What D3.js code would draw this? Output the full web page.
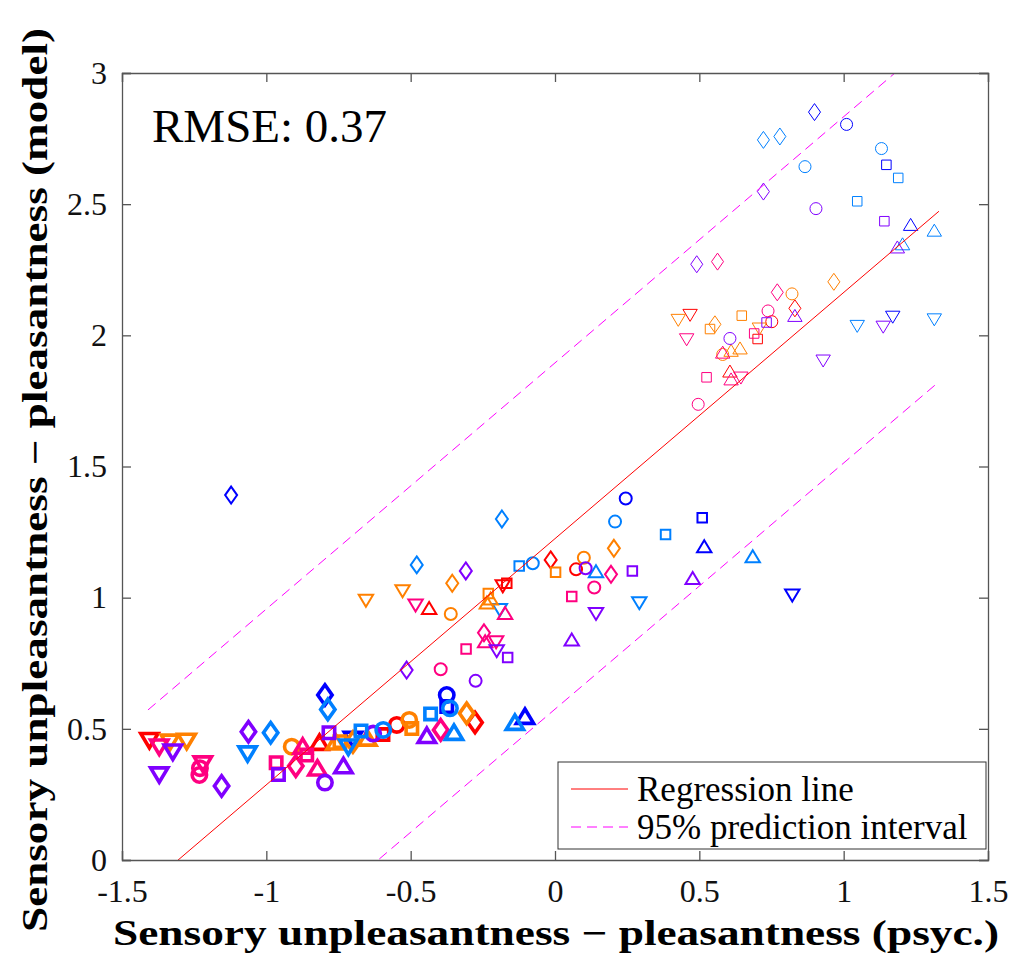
<!DOCTYPE html>
<html><head><meta charset="utf-8">
<script src="https://cdn.jsdelivr.net/npm/d3@7"></script>
<style>body{margin:0;background:#fff}</style>
</head><body>
<svg id="c" width="1013" height="963"></svg>
<script>
// ---- data ----
// color codes: R red, O orange, P pink, V violet, A azure, B blue
// shape codes: o circle, s square, d diamond, ^ up-triangle, v down-triangle
const thickPoints = [
  [-1.405,0.457,'R','v'],[-0.816,0.447,'R','^'],[-0.548,0.515,'R','o'],[-0.277,0.524,'R','d'],[-0.596,0.478,'R','s'],
  [-0.797,0.629,'B','d'],[-0.375,0.629,'B','o'],[-0.375,0.585,'B','s'],[-0.104,0.546,'B','^'],[-0.700,0.462,'B','v'],
  [-1.334,0.451,'O','v'],[-1.276,0.454,'O','v'],[-0.912,0.432,'O','o'],[-0.505,0.534,'O','o'],[-0.496,0.501,'O','s'],
  [-0.745,0.451,'O','s'],[-0.306,0.559,'O','d'],[-0.700,0.450,'O','d'],[-0.650,0.463,'O','^'],[-0.760,0.448,'O','^'],
  [-1.371,0.432,'P','v'],[-1.220,0.368,'P','v'],[-1.232,0.324,'P','o'],[-1.230,0.350,'P','o'],[-0.966,0.371,'P','s'],
  [-0.860,0.400,'P','s'],[-0.898,0.358,'P','d'],[-0.396,0.496,'P','d'],[-0.874,0.432,'P','^'],[-0.823,0.349,'P','^'],
  [-1.324,0.413,'V','v'],[-1.371,0.326,'V','v'],[-1.155,0.282,'V','d'],[-1.062,0.489,'V','d'],[-0.958,0.326,'V','s'],
  [-0.783,0.485,'V','s'],[-0.733,0.358,'V','^'],[-0.444,0.473,'V','^'],[-0.797,0.295,'V','o'],[-0.630,0.482,'V','o'],
  [-0.985,0.485,'A','d'],[-0.787,0.574,'A','d'],[-1.065,0.406,'A','v'],[-0.716,0.432,'A','v'],[-0.672,0.492,'A','s'],
  [-0.431,0.557,'A','s'],[-0.595,0.496,'A','o'],[-0.364,0.578,'A','o'],[-0.350,0.485,'A','^'],[-0.139,0.523,'A','^']
];
const mediumPoints = [
  [-0.015,1.144,'R','d'],[0.073,1.108,'R','o'],[-0.436,0.959,'R','^'],[-0.181,1.045,'R','v'],[-0.167,1.055,'R','s'],
  [0.245,1.378,'B','o'],[0.510,1.305,'B','s'],[0.517,1.194,'B','^'],[0.822,1.010,'B','v'],[-1.122,1.391,'B','d'],
  [0.208,1.290,'A','o'],[-0.077,1.131,'A','o'],[-0.184,1.300,'A','d'],[-0.479,1.125,'A','d'],[-0.124,1.121,'A','s'],
  [0.383,1.241,'A','s'],[0.142,1.099,'A','^'],[0.685,1.156,'A','^'],[-0.191,0.955,'A','v'],[0.292,0.981,'A','v'],
  [0.204,1.188,'O','d'],[-0.356,1.055,'O','d'],[0.002,1.097,'O','s'],[-0.231,1.016,'O','s'],[0.100,1.152,'O','o'],
  [-0.361,0.938,'O','o'],[-0.528,1.026,'O','v'],[-0.655,0.990,'O','v'],[-0.223,0.995,'O','^'],[-0.236,0.980,'O','^'],
  [0.194,1.089,'P','d'],[-0.246,0.866,'P','d'],[-0.483,0.972,'P','v'],[-0.204,0.832,'P','v'],[-0.173,0.940,'P','^'],
  [-0.242,0.832,'P','^'],[0.058,1.004,'P','s'],[-0.308,0.804,'P','s'],[0.136,1.039,'P','o'],[-0.396,0.727,'P','o'],
  [0.106,1.112,'V','o'],[-0.275,0.683,'V','o'],[0.268,1.102,'V','s'],[-0.164,0.772,'V','s'],[-0.309,1.102,'V','d'],
  [-0.514,0.724,'V','d'],[0.142,0.940,'V','v'],[-0.202,0.798,'V','v'],[0.058,0.839,'V','^'],[0.477,1.073,'V','^']
];
const thinPoints = [
  [0.831,2.103,'R','d'],[0.468,2.078,'R','v'],[0.751,2.052,'R','o'],[0.702,1.986,'R','s'],[0.606,1.862,'R','^'],
  [0.899,2.851,'B','d'],[1.010,2.804,'B','o'],[1.148,2.650,'B','s'],[1.232,2.421,'B','^'],[1.170,2.071,'B','v'],
  [0.722,2.745,'A','d'],[0.779,2.758,'A','d'],[1.131,2.712,'A','o'],[0.866,2.643,'A','o'],[1.189,2.600,'A','s'],
  [1.047,2.511,'A','s'],[1.314,2.399,'A','^'],[1.204,2.347,'A','^'],[1.047,2.036,'A','v'],[1.314,2.061,'A','v'],
  [0.966,2.204,'O','d'],[0.554,2.042,'O','d'],[0.821,2.158,'O','o'],[0.581,1.927,'O','o'],[0.537,2.024,'O','s'],
  [0.647,2.075,'O','s'],[0.427,2.059,'O','v'],[0.708,2.026,'O','v'],[0.610,1.941,'O','^'],[0.641,1.950,'O','^'],
  [0.563,2.281,'P','d'],[0.770,2.164,'P','d'],[0.456,1.985,'P','v'],[0.644,1.839,'P','v'],[0.738,2.093,'P','o'],
  [0.496,1.737,'P','o'],[0.690,2.007,'P','s'],[0.525,1.840,'P','s'],[0.581,1.934,'P','^'],[0.610,1.832,'P','^'],
  [0.491,2.271,'V','d'],[0.722,2.548,'V','d'],[0.904,2.483,'V','o'],[0.606,1.988,'V','o'],[1.141,2.435,'V','s'],
  [0.733,2.049,'V','s'],[1.186,2.335,'V','^'],[0.831,2.074,'V','^'],[1.137,2.033,'V','v'],[0.929,1.904,'V','v']
];
const lineX = [-1.41, 1.33];
const regressionY = [-0.098, 2.473];
const upperPIY = [0.572, 3.143];
const lowerPIY = [-0.748, 1.823];
const xTicks = [-1.5, -1, -0.5, 0, 0.5, 1, 1.5];
const yTicks = [0, 0.5, 1, 1.5, 2, 2.5, 3];
const rmseText = "RMSE: 0.37";
const legendLabels = ["Regression line", "95% prediction interval"];
const xLabel = "Sensory unpleasantness \u2212 pleasantness (psyc.)";
const yLabel = "Sensory unpleasantness \u2212 pleasantness (model)";

// ---- drawing ----
const colors = {R:"#ff0000", O:"#ff8000", P:"#ff0080", V:"#8000ff", A:"#0080ff", B:"#0000ff"};
const L = 122, T = 73, R = 988, Bm = 860;
const x = d3.scaleLinear().domain([-1.5, 1.5]).range([L, R]);
const y = d3.scaleLinear().domain([0, 3]).range([Bm, T]);
const svg = d3.select("#c");
const serif = "'Liberation Serif','Times New Roman',serif";
const axisColor = "#555";

svg.append("defs").append("clipPath").attr("id","clip")
  .append("rect").attr("x",L).attr("y",T).attr("width",R-L).attr("height",Bm-T);

function shapePath(s, k){
  switch(s){
    case 'o': { const r=6*k; return `M${r},0A${r},${r} 0 1,1 ${-r},0A${r},${r} 0 1,1 ${r},0Z`; }
    case 's': { const h=4.75*k; return `M${-h},${-h}H${h}V${h}H${-h}Z`; }
    case 'd': { const w=6*k, h=8.5*k; return `M0,${-h}L${w},0L0,${h}L${-w},0Z`; }
    case '^': { const w=7.2*k; return `M0,${-6.5*k}L${w},${5.5*k}L${-w},${5.5*k}Z`; }
    case 'v': { const w=7.2*k; return `M0,${6.5*k}L${w},${-5.5*k}L${-w},${-5.5*k}Z`; }
  }
}

const plot = svg.append("g").attr("clip-path","url(#clip)");
function drawGroup(pts, lw, k){
  plot.append("g").selectAll("path").data(pts).join("path")
    .attr("d", d => shapePath(d[3], k))
    .attr("transform", d => `translate(${x(d[0])},${y(d[1])})`)
    .attr("fill","none").attr("stroke", d => colors[d[2]])
    .attr("stroke-width", lw).attr("stroke-linejoin","miter");
}
drawGroup(thickPoints, 3.6, 1.2);
drawGroup(mediumPoints, 2, 1.0);
drawGroup(thinPoints, 1, 1.0);

const ln = d3.line().x(d => x(d[0])).y(d => y(d[1]));
plot.append("path").datum(d3.zip(lineX, regressionY)).attr("d", ln)
  .attr("stroke","#ff0000").attr("stroke-width",1).attr("fill","none");
[upperPIY, lowerPIY].forEach(ys => {
  plot.append("path").datum(d3.zip(lineX, ys)).attr("d", ln)
    .attr("stroke","#ff00ff").attr("stroke-width",1).attr("fill","none")
    .attr("stroke-dasharray","10,6");
});

// axes
const tl = 9;
const fmt = d => String(d);
const xb = svg.append("g").attr("transform",`translate(0,${Bm})`)
  .call(d3.axisBottom(x).tickValues(xTicks).tickSize(-tl).tickPadding(19).tickFormat(fmt));
const xt = svg.append("g").attr("transform",`translate(0,${T})`)
  .call(d3.axisTop(x).tickValues(xTicks).tickSize(-tl).tickFormat(""));
const yl = svg.append("g").attr("transform",`translate(${L},0)`)
  .call(d3.axisLeft(y).tickValues(yTicks).tickSize(-tl).tickPadding(15).tickFormat(fmt));
const yr = svg.append("g").attr("transform",`translate(${R},0)`)
  .call(d3.axisRight(y).tickValues(yTicks).tickSize(-tl).tickFormat(""));
[xb,xt,yl,yr].forEach(g => {
  g.select(".domain").attr("stroke",axisColor).attr("stroke-width",1.3);
  g.selectAll(".tick line").attr("stroke",axisColor).attr("stroke-width",1.3);
  g.selectAll(".tick text").attr("font-family",serif).attr("font-size",32).attr("fill","#111");
});

svg.append("text").attr("x",152).attr("y",142).text(rmseText)
  .attr("font-family",serif).attr("font-size",47).attr("fill","#000");

// legend
const lg = svg.append("g");
lg.append("rect").attr("x",558).attr("y",762).attr("width",428).attr("height",87)
  .attr("fill","#fff").attr("stroke","#333").attr("stroke-width",1);
lg.append("line").attr("x1",571).attr("x2",628).attr("y1",789).attr("y2",789)
  .attr("stroke","#ff0000").attr("stroke-width",1);
lg.append("line").attr("x1",571).attr("x2",628).attr("y1",827).attr("y2",827)
  .attr("stroke","#ff00ff").attr("stroke-width",1).attr("stroke-dasharray","10,6");
lg.selectAll("text.l").data(legendLabels).join("text").attr("class","l")
  .attr("x",637).attr("y",(d,i)=>789+i*38).attr("dy","0.35em").text(d=>d)
  .attr("font-family",serif).attr("font-size",35).attr("fill","#000");

// axis labels
svg.append("text").attr("x",556).attr("y",945).attr("text-anchor","middle")
  .attr("textLength",886).attr("lengthAdjust","spacingAndGlyphs")
  .text(xLabel).attr("font-family",serif).attr("font-weight","bold").attr("font-size",35).attr("fill","#000");
svg.append("text").attr("transform",`translate(47,480) rotate(-90)`).attr("text-anchor","middle")
  .attr("textLength",904).attr("lengthAdjust","spacingAndGlyphs")
  .text(yLabel).attr("font-family",serif).attr("font-weight","bold").attr("font-size",35).attr("fill","#000");
</script>
</body></html>
